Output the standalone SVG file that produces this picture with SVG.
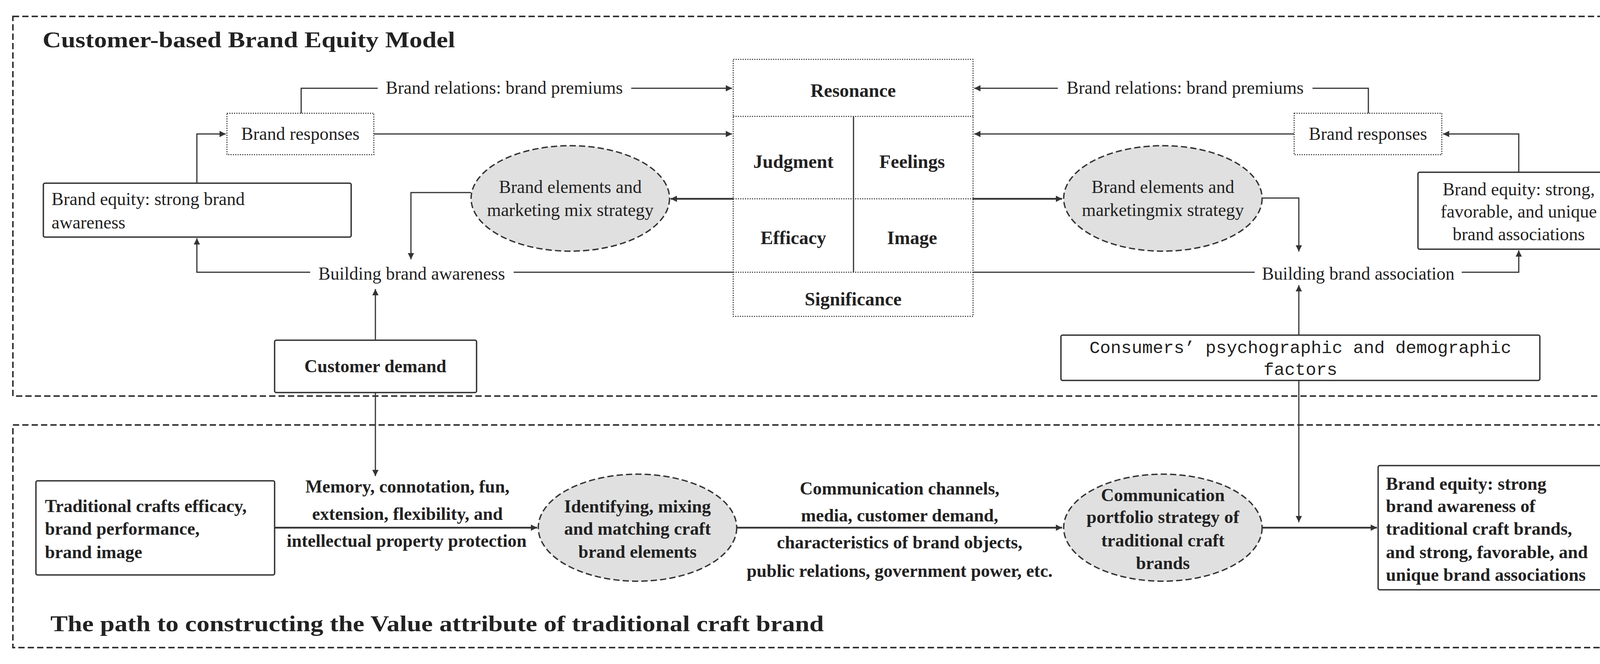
<svg xmlns="http://www.w3.org/2000/svg" width="4253" height="1700" viewBox="0 0 4253 1700">
<defs>
<marker id="ah" viewBox="0 0 10 10" refX="10" refY="5" markerWidth="24" markerHeight="16" markerUnits="userSpaceOnUse" orient="auto"><path d="M0,0 L10,5 L0,10 Z" fill="#333"/></marker>
</defs>
<style>
.t{font-family:"Liberation Serif","Times New Roman",serif;fill:#222}
.n{font-size:46px}
.b{font-size:46px;font-weight:bold}
.hb{font-size:48px;font-weight:bold}
.title{font-size:58px;font-weight:bold}
.mono{font-family:"Liberation Mono","Courier New",monospace;font-size:45px;fill:#222}
.m{text-anchor:middle}
.frame{fill:none;stroke:#333;stroke-width:4;stroke-dasharray:16 8}
.box{fill:#fff;stroke:#333;stroke-width:3.5}
.dot{fill:#fff;stroke:#333;stroke-width:2.5;stroke-dasharray:3 3}
.ell{fill:#e0e0e0;stroke:#333;stroke-width:3.5;stroke-dasharray:16 8}
.ln{fill:none;stroke:#333;stroke-width:3}
.lt{fill:none;stroke:#333;stroke-width:4.5}
</style>
<rect class="frame" x="33" y="42" width="4182" height="972"/>
<rect class="frame" x="33" y="1088" width="4182" height="570"/>
<text class="t title" x="109" y="121" textLength="1056" lengthAdjust="spacingAndGlyphs">Customer-based Brand Equity Model</text>
<text class="t title" x="129" y="1616" textLength="1980" lengthAdjust="spacingAndGlyphs">The path to constructing the Value attribute of traditional craft brand</text>

<g id="connectors">
<path class="ln" d="M771,290 V226 H967"/>
<path class="ln" d="M1616,226 H1874" marker-end="url(#ah)"/>
<path class="ln" d="M957,343 H1874" marker-end="url(#ah)"/>
<path class="ln" d="M504,469 V343 H578" marker-end="url(#ah)"/>
<path class="lt" d="M1877,509 H1717" marker-end="url(#ah)"/>
<path class="ln" d="M1206,493 H1052 V664" marker-end="url(#ah)"/>
<path class="ln" d="M1877,697 H1315"/>
<path class="ln" d="M794,697 H504 V610" marker-end="url(#ah)"/>
<path class="ln" d="M961,871 V740" marker-end="url(#ah)"/>
<path class="ln" d="M961,1005 V1219" marker-end="url(#ah)"/>
<path class="ln" d="M3503,290 V226 H3360"/>
<path class="ln" d="M2708,226 H2494" marker-end="url(#ah)"/>
<path class="ln" d="M3313,343 H2494" marker-end="url(#ah)"/>
<path class="ln" d="M3888,441 V343 H3694" marker-end="url(#ah)"/>
<path class="lt" d="M2491,509 H2719" marker-end="url(#ah)"/>
<path class="ln" d="M3231,507 H3325 V644" marker-end="url(#ah)"/>
<path class="ln" d="M2491,697 H3212"/>
<path class="ln" d="M3742,697 H3888 V641" marker-end="url(#ah)"/>
<path class="ln" d="M3325,858 V730" marker-end="url(#ah)"/>
<path class="ln" d="M3325,974 V1337" marker-end="url(#ah)"/>
<path class="lt" d="M703,1351 H1375" marker-end="url(#ah)"/>
<path class="lt" d="M1885,1351 H2719" marker-end="url(#ah)"/>
<path class="lt" d="M3231,1351 H3525" marker-end="url(#ah)"/>
</g>

<g id="pyramid">
<rect class="dot" x="1877" y="152" width="614" height="658"/>
<line class="dot" x1="1877" y1="298" x2="2491" y2="298"/>
<line class="dot" x1="1877" y1="509" x2="2491" y2="509"/>
<line class="dot" x1="1877" y1="697" x2="2491" y2="697"/>
<line class="ln" x1="2185" y1="298" x2="2185" y2="697"/>
<text class="t hb m" x="2184" y="248">Resonance</text>
<text class="t hb m" x="2031" y="430">Judgment</text>
<text class="t hb m" x="2335" y="430">Feelings</text>
<text class="t hb m" x="2031" y="625">Efficacy</text>
<text class="t hb m" x="2335" y="625">Image</text>
<text class="t hb m" x="2184" y="782">Significance</text>
</g>

<g id="labels-top">
<text class="t n m" x="1291" y="240">Brand relations: brand premiums</text>
<text class="t n m" x="3034" y="240">Brand relations: brand premiums</text>
<text class="t n m" x="1054" y="716">Building brand awareness</text>
<text class="t n m" x="3477" y="716">Building brand association</text>
</g>

<g id="brand-responses-left">
<rect class="dot" x="581" y="290" width="376" height="106"/>
<text class="t n m" x="769" y="358">Brand responses</text>
</g>
<g id="brand-responses-right">
<rect class="dot" x="3313" y="290" width="378" height="106"/>
<text class="t n m" x="3502" y="358">Brand responses</text>
</g>
<g id="equity-awareness">
<rect class="box" x="111" y="469" width="788" height="138" rx="4"/>
<text class="t n" x="132" y="525">Brand equity: strong brand</text>
<text class="t n" x="132" y="585">awareness</text>
</g>
<g id="equity-associations">
<rect class="box" x="3630" y="441" width="516" height="197" rx="4"/>
<text class="t n m" x="3888" y="500">Brand equity: strong,</text>
<text class="t n m" x="3888" y="557">favorable, and unique</text>
<text class="t n m" x="3888" y="615">brand associations</text>
</g>
<g id="elements-left">
<ellipse class="ell" cx="1460" cy="508" rx="254" ry="135"/>
<text class="t n m" x="1460" y="494">Brand elements and</text>
<text class="t n m" x="1460" y="553">marketing mix strategy</text>
</g>
<g id="elements-right">
<ellipse class="ell" cx="2977" cy="508" rx="254" ry="135"/>
<text class="t n m" x="2977" y="494">Brand elements and</text>
<text class="t n m" x="2977" y="553">marketingmix strategy</text>
</g>
<g id="customer-demand">
<rect class="box" x="703" y="871" width="517" height="134" rx="4"/>
<text class="t b m" x="961" y="953">Customer demand</text>
</g>
<g id="consumers">
<rect class="box" x="2716" y="858" width="1226" height="116" rx="4"/>
<text class="mono m" x="3329" y="904">Consumers’  psychographic and demographic</text>
<text class="mono m" x="3329" y="960">factors</text>
</g>

<g id="crafts-efficacy">
<rect class="box" x="92" y="1231" width="611" height="241" rx="4"/>
<text class="t b" x="115" y="1311">Traditional crafts efficacy,</text>
<text class="t b" x="115" y="1369">brand performance,</text>
<text class="t b" x="115" y="1429">brand image</text>
</g>
<g id="labels-bottom">
<text class="t b m" x="1043" y="1261">Memory, connotation, fun,</text>
<text class="t b m" x="1043" y="1331">extension, flexibility, and</text>
<text class="t b m" x="1041" y="1400">intellectual property protection</text>
<text class="t b m" x="2303" y="1266">Communication channels,</text>
<text class="t b m" x="2303" y="1335">media, customer demand,</text>
<text class="t b m" x="2303" y="1404">characteristics of brand objects,</text>
<text class="t b m" x="2303" y="1477">public relations, government power, etc.</text>
</g>
<g id="identifying">
<ellipse class="ell" cx="1632" cy="1351" rx="254" ry="137"/>
<text class="t b m" x="1632" y="1312">Identifying, mixing</text>
<text class="t b m" x="1632" y="1369">and matching craft</text>
<text class="t b m" x="1632" y="1428">brand elements</text>
</g>
<g id="communication">
<ellipse class="ell" cx="2977" cy="1351" rx="254" ry="137"/>
<text class="t b m" x="2977" y="1283">Communication</text>
<text class="t b m" x="2977" y="1339">portfolio strategy of</text>
<text class="t b m" x="2977" y="1399">traditional craft</text>
<text class="t b m" x="2977" y="1457">brands</text>
</g>
<g id="equity-final">
<rect class="box" x="3528" y="1192" width="618" height="318" rx="4"/>
<text class="t b" x="3548" y="1254">Brand equity: strong</text>
<text class="t b" x="3548" y="1311">brand awareness of</text>
<text class="t b" x="3548" y="1369">traditional craft brands,</text>
<text class="t b" x="3548" y="1429">and strong, favorable, and</text>
<text class="t b" x="3548" y="1487">unique brand associations</text>
</g>
</svg>
